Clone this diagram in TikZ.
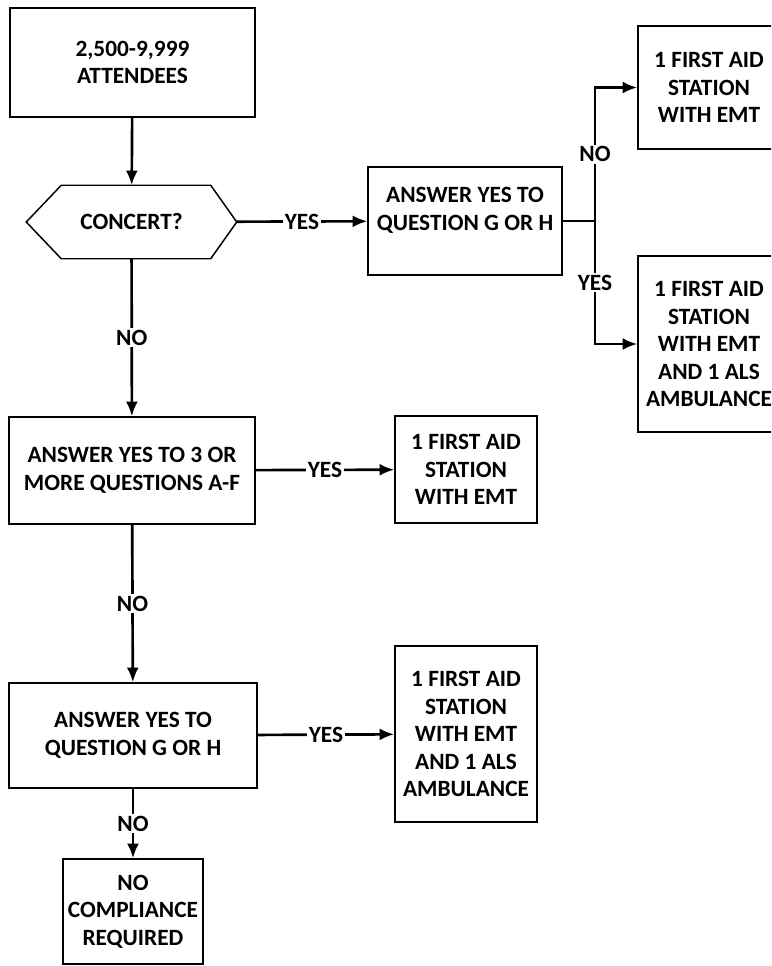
\documentclass[tikz,border=0pt]{standalone}
\usepackage{fontspec}
\setmainfont{Carlito}
\usetikzlibrary{calc,arrows.meta}
\newcommand{\px}{0.75pt}
\newcommand{\chartfont}{\fontsize{17.5}{20.6}\selectfont\bfseries}

\begin{document}
\begin{tikzpicture}[x=\px,y=-\px,
	box/.style={draw, line width=1.1pt, align=center, inner sep=0pt, font=\chartfont},
	link/.style={line width=2pt},
	arr/.style={link, -{Latex[length=11pt,width=9pt]}},
	lbl/.style={fill=white, inner sep=1.5pt, font=\chartfont}]
	\useasboundingbox (0,0) rectangle (771,966);
	\clip (0,0) rectangle (771,966);

	\node[box, minimum width=245*\px, minimum height=109*\px] (att) at (132.5,62.5) {2,500-9,999\\ATTENDEES};
	\node[box, draw=none, minimum width=209*\px, minimum height=72*\px] (concert) at (131.5,222) {CONCERT?};
	\draw[line width=1.1pt] (concert.west) -- ($(concert.north west)+(35,0)$) -- ($(concert.north east)-(26,0)$)
		-- (concert.east) -- ($(concert.south east)-(26,0)$) -- ($(concert.south west)+(35,0)$) -- cycle;
	\node[box, minimum width=194*\px, minimum height=108*\px, text depth=18pt] (qgh) at (465,221) {ANSWER YES TO\\QUESTION G OR H};
	\node[box, minimum width=142*\px, minimum height=123*\px] (fa1) at (709,87.5) {1 FIRST AID\\STATION\\WITH EMT};
	\node[box, minimum width=142*\px, minimum height=176*\px] (fa2) at (709,344) {1 FIRST AID\\STATION\\WITH EMT\\AND 1 ALS\\AMBULANCE};
	\node[box, minimum width=246*\px, minimum height=107*\px] (q3) at (132,470.5) {ANSWER YES TO 3 OR\\MORE QUESTIONS A-F};
	\node[box, minimum width=142*\px, minimum height=107*\px] (fa3) at (466,469.5) {1 FIRST AID\\STATION\\WITH EMT};
	\node[box, minimum width=248*\px, minimum height=105*\px] (q4) at (133,735.5) {ANSWER YES TO\\QUESTION G OR H};
	\node[box, minimum width=142*\px, minimum height=176*\px] (fa4) at (466,734) {1 FIRST AID\\STATION\\WITH EMT\\AND 1 ALS\\AMBULANCE};
	\node[box, minimum width=140*\px, minimum height=105*\px] (nc) at (133,911.5) {NO\\COMPLIANCE\\REQUIRED};
	\coordinate (split) at (595,221);

	\draw[arr] (att) -- (concert);
	\draw[arr] (concert) -- node[lbl] {YES} (qgh);
	\draw[link] (qgh) -- (split);
	\draw[arr] (split) |- node[lbl, pos=0.25] {NO} (fa1);
	\draw[arr] (split) |- node[lbl, pos=0.25] {YES} (fa2);
	\draw[arr] (concert) -- node[lbl] {NO} (q3);
	\draw[arr] (q3) -- node[lbl] {YES} (fa3);
	\draw[arr] (q3) -- node[lbl] {NO} (q4);
	\draw[arr] (q4) -- node[lbl] {YES} (fa4);
	\draw[arr] (q4) -- node[lbl] {NO} (nc);
\end{tikzpicture}
\end{document}
